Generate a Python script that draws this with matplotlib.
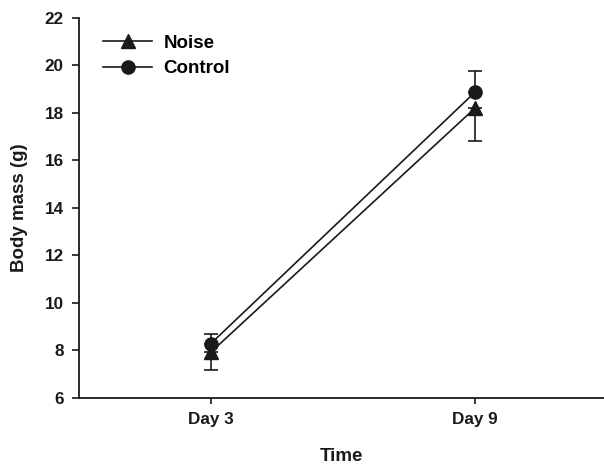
import matplotlib
matplotlib.use("Agg")
import matplotlib.pyplot as plt
from matplotlib.lines import Line2D

days = ["Day 3", "Day 9"]
noise_mean = [7.93, 18.18]
noise_err = [0.76, 1.37]
control_mean = [8.29, 18.85]
control_err = [0.39, 0.91]
yticks = [6, 8, 10, 12, 14, 16, 18, 20, 22]

plt.rcParams['font.family'] = ['Liberation Sans', 'DejaVu Sans']
plt.rcParams['font.weight'] = 'bold'

fig = plt.figure(figsize=(6.04, 4.66), dpi=100)
ax = fig.add_axes([0.1308, 0.1459, 0.8692, 0.8165])

x = [1, 2]
col = '#1a1a1a'
zeros = [0] * len(x)
# SigmaPlot-style one-sided error bars: Noise downward, Control upward
ax.errorbar(x, noise_mean, yerr=[noise_err, zeros], color=col, marker='^', markersize=9.5,
            lw=1.2, capsize=5, capthick=1.2, elinewidth=1.2, zorder=3)
ax.errorbar(x, control_mean, yerr=[zeros, control_err], color=col, marker='o', markersize=9.5,
            lw=1.2, capsize=5, capthick=1.2, elinewidth=1.2, zorder=3)

ax.set_xlim(0.5, 2.49)
ax.set_ylim(6, 22)
ax.set_yticks(yticks)
ax.set_xticks(x)
ax.set_xticklabels(days)
for s in ['top', 'right']:
    ax.spines[s].set_visible(False)
for s in ['left', 'bottom']:
    ax.spines[s].set_linewidth(1.3)
    ax.spines[s].set_color(col)
ax.tick_params(axis='y', direction='out', length=5, width=1.2, labelsize=12.3, pad=6, colors=col)
ax.tick_params(axis='x', direction='out', length=4, width=1.2, labelsize=12.3, pad=6, colors=col)
for lab in ax.get_xticklabels() + ax.get_yticklabels():
    lab.set_fontweight('bold')

ax.set_ylabel('Body mass (g)', fontsize=13.5, fontweight='bold', labelpad=12, color=col)
ax.set_xlabel('Time', fontsize=13.5, fontweight='bold', labelpad=15.5, color=col)

handles = [Line2D([], [], color=col, marker='^', markersize=9.5, lw=1.2),
           Line2D([], [], color=col, marker='o', markersize=9.5, lw=1.2)]
leg = ax.legend(handles, ['Noise', 'Control'], loc='upper left',
                bbox_to_anchor=(0.025, 0.985), frameon=False,
                prop={'size': 13.5, 'weight': 'bold'}, handlelength=2.6,
                handletextpad=0.6, labelspacing=0.45, borderaxespad=0.2)

fig.savefig('out.png', dpi=100)
